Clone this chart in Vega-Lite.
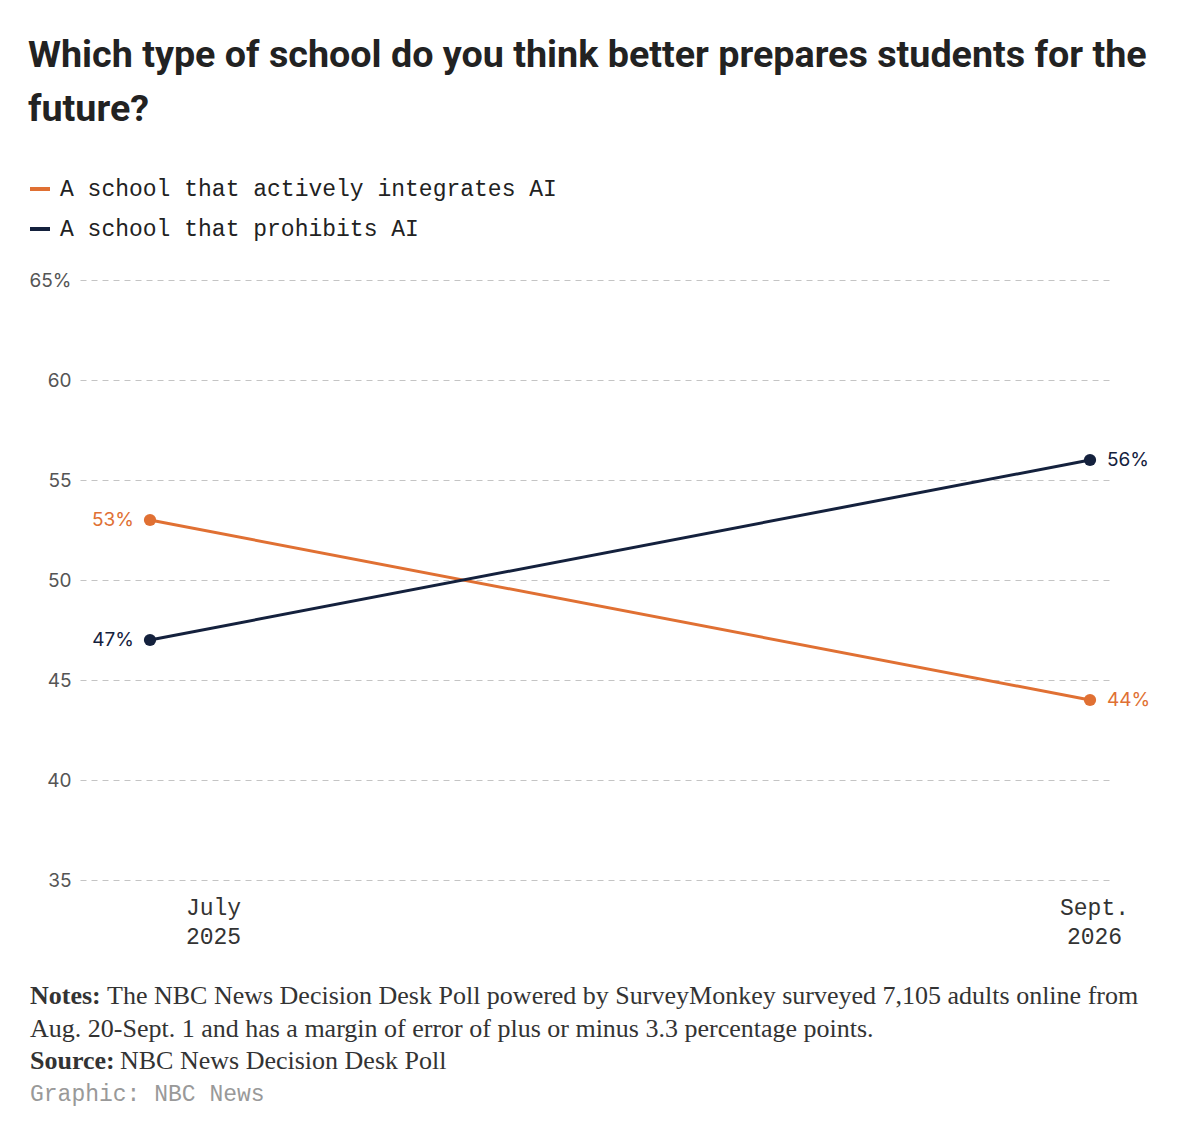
{
  "$schema": "https://vega.github.io/schema/vega-lite/v6.json",
  "padding": {"top": 37, "left": 28, "right": 0, "bottom": 0},
  "background": "white",
  "title": {
    "text": ["Which type of school do you think better prepares students for the", "future?"],
    "anchor": "start",
    "frame": "bounds",
    "font": "Roboto",
    "fontSize": 37.7,
    "fontWeight": "bold",
    "color": "#222222",
    "lineHeight": 54,
    "offset": 48
  },
  "config": {"view": {"stroke": null}},
  "spacing": 35,
  "vconcat": [
    {
      "width": 1032,
      "height": 600,
      "data": {
        "values": [
          {"t": 0, "series": "A school that actively integrates AI", "value": 53, "label": "53%"},
          {"t": 1, "series": "A school that actively integrates AI", "value": 44, "label": "44%"},
          {"t": 0, "series": "A school that prohibits AI", "value": 47, "label": "47%"},
          {"t": 1, "series": "A school that prohibits AI", "value": 56, "label": "56%"}
        ]
      },
      "encoding": {
        "x": {
          "field": "t",
          "type": "quantitative",
          "scale": {"domain": [-0.07447, 1.0234], "nice": false, "zero": false},
          "axis": {
            "values": [0, 1],
            "labelExpr": "datum.value == 0 ? ['July', '2025'] : ['Sept.', '2026']",
            "labelFont": "Liberation Mono",
            "labelFontSize": 23,
            "labelColor": "#333333",
            "labelLineHeight": 29,
            "labelPadding": 16,
            "labelFlush": false,
            "labelOffset": {"condition": {"test": "datum.value == 0", "value": 63}, "value": 4},
            "domain": false,
            "ticks": false,
            "grid": false,
            "title": null
          }
        },
        "y": {
          "field": "value",
          "type": "quantitative",
          "scale": {"domain": [35, 65], "nice": false, "zero": false},
          "axis": {
            "values": [35, 40, 45, 50, 55, 60, 65],
            "labelExpr": "datum.value == 65 ? '65%' : datum.label",
            "grid": true,
            "gridDash": [6, 5],
            "gridColor": "#c4c4c4",
            "gridWidth": 1,
            "domain": false,
            "ticks": false,
            "labelFont": "Inter",
            "labelFontSize": 19,
            "labelColor": "#555555",
            "labelPadding": 9,
            "labelFlush": false,
            "title": null
          }
        },
        "color": {
          "field": "series",
          "type": "nominal",
          "scale": {
            "domain": ["A school that actively integrates AI", "A school that prohibits AI"],
            "range": ["#E07033", "#14213D"]
          },
          "legend": {
            "orient": "none",
            "legendX": -52,
            "legendY": -103,
            "title": null,
            "symbolType": "stroke",
            "symbolSize": 400,
            "symbolStrokeWidth": 4,
            "labelFont": "Liberation Mono",
            "labelFontSize": 23,
            "labelLimit": 0,
            "labelColor": "#222222",
            "labelOffset": 8,
            "rowPadding": 16
          }
        }
      },
      "layer": [
        {"mark": {"type": "line", "strokeWidth": 3}},
        {"mark": {"type": "point", "filled": true, "size": 150, "opacity": 1}},
        {
          "transform": [{"filter": "datum.t == 0"}],
          "mark": {"type": "text", "align": "right", "baseline": "middle", "dx": -16, "font": "Inter", "fontSize": 19},
          "encoding": {"text": {"field": "label"}}
        },
        {
          "transform": [{"filter": "datum.t == 1"}],
          "mark": {"type": "text", "align": "left", "baseline": "middle", "dx": 17, "font": "Inter", "fontSize": 19},
          "encoding": {"text": {"field": "label"}}
        }
      ]
    },
    {
      "width": 1100,
      "height": 97.5,
      "data": {
        "values": [
          {"row": 1, "bold": "Notes:", "text": "The NBC News Decision Desk Poll powered by SurveyMonkey surveyed 7,105 adults online from"},
          {"row": 2, "bold": "", "text": "Aug. 20-Sept. 1 and has a margin of error of plus or minus 3.3 percentage points."},
          {"row": 3, "bold": "Source:", "text": "NBC News Decision Desk Poll"},
          {"row": 4, "bold": "", "text": "Graphic: NBC News"}
        ]
      },
      "encoding": {
        "y": {"field": "row", "type": "ordinal", "axis": null, "scale": {"type": "point", "padding": 0}},
        "x": {"value": -50}
      },
      "layer": [
        {
          "transform": [{"filter": "datum.row == 1 || datum.row == 3"}],
          "mark": {"type": "text", "align": "left", "baseline": "middle", "font": "Liberation Serif", "fontSize": 26, "fontWeight": "bold", "color": "#333333"},
          "encoding": {"text": {"field": "bold"}}
        },
        {
          "transform": [{"filter": "datum.row == 1"}],
          "mark": {"type": "text", "align": "left", "baseline": "middle", "dx": 77, "font": "Liberation Serif", "fontSize": 26, "color": "#333333"},
          "encoding": {"text": {"field": "text"}}
        },
        {
          "transform": [{"filter": "datum.row == 2"}],
          "mark": {"type": "text", "align": "left", "baseline": "middle", "font": "Liberation Serif", "fontSize": 26, "color": "#333333"},
          "encoding": {"text": {"field": "text"}}
        },
        {
          "transform": [{"filter": "datum.row == 3"}],
          "mark": {"type": "text", "align": "left", "baseline": "middle", "dx": 90, "font": "Liberation Serif", "fontSize": 26, "color": "#333333"},
          "encoding": {"text": {"field": "text"}}
        },
        {
          "transform": [{"filter": "datum.row == 4"}],
          "mark": {"type": "text", "align": "left", "baseline": "middle", "font": "Liberation Mono", "fontSize": 23, "color": "#999999"},
          "encoding": {"text": {"field": "text"}}
        }
      ]
    }
  ]
}
